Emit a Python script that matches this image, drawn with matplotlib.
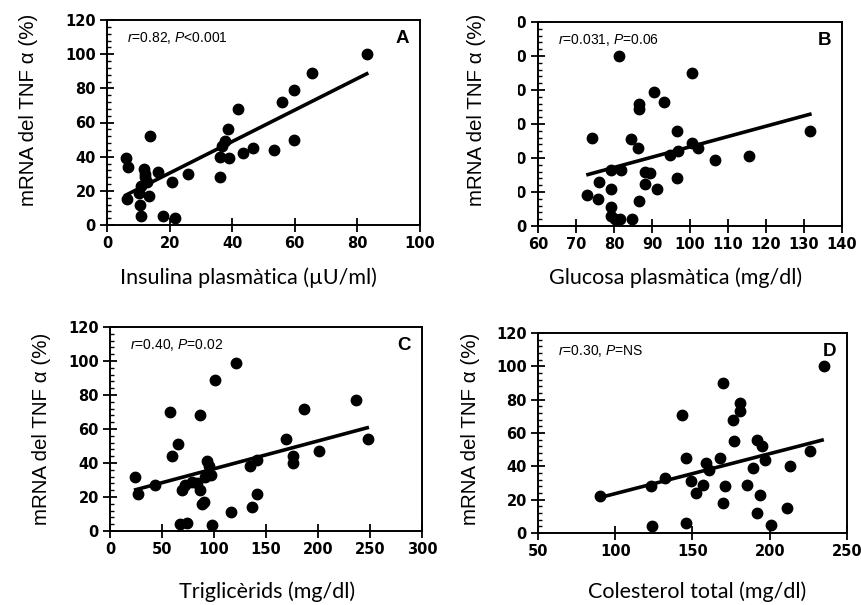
import matplotlib
matplotlib.use("Agg")
import matplotlib.pyplot as plt
from matplotlib.patches import Rectangle
from matplotlib.ticker import MultipleLocator

plt.rcParams['mathtext.fontset'] = 'custom'
plt.rcParams['mathtext.rm'] = 'Liberation Sans'
plt.rcParams['mathtext.it'] = 'Liberation Sans:italic'

# A - insulina plasmatica
ins_x = [6.2, 6.6, 6.4, 10.1, 10.6, 10.9, 11.7, 12.2, 11.0, 12.8, 13.3, 13.6, 16.2, 12.0,
         17.9, 20.7, 21.8, 25.9, 36.2, 36.0, 36.7, 37.8, 38.8, 39.1, 42.0, 43.3, 46.8,
         53.4, 56.0, 59.8, 59.8, 65.6, 83.2]
ins_y = [39, 34, 15, 19, 12, 5, 33, 28, 23, 25, 17, 52, 31, 30,
         5, 25, 4, 30, 28, 40, 46, 49, 56, 39, 68, 42, 45,
         44, 72, 79, 50, 89, 100]
ins_fit_x = [5.5, 83.5]
ins_fit_y = [17, 89]

# B - glucosa plasmatica
glu_x = [73.0, 74.1, 75.8, 76.1, 79.3, 79.3, 79.3, 79.3, 80.2, 81.3, 81.5, 81.9, 84.6,
         84.8, 86.3, 86.5, 86.5, 86.5, 88.2, 88.2, 89.6, 90.4, 91.3, 93.1, 94.8, 96.6,
         96.6, 96.8, 100.4, 100.4, 102.1, 106.5, 115.5, 131.7]
glu_y = [18, 52, 16, 26, 22, 33, 11, 6, 4, 100, 4, 33, 51,
         4, 46, 72, 69, 15, 32, 25, 31, 79, 22, 73, 42, 56,
         28, 44, 90, 49, 46, 39, 41, 56]
glu_fit_x = [72.7, 132]
glu_fit_y = [30, 66]

# C - triglicerids
tg_x = [24, 27, 43, 58, 60, 65, 67, 69, 72, 74, 79, 84, 87, 87, 88, 90, 91, 93, 95,
        97, 98, 101, 116, 121, 135, 137, 141, 141, 169, 176, 176, 187, 201, 237, 248]
tg_y = [32, 22, 27, 70, 44, 51, 4, 24, 27, 5, 29, 28, 68, 24, 16, 17, 32, 41, 38,
        33, 3.5, 89, 11, 99, 38, 14, 22, 42, 54, 44, 40, 72, 47, 77, 54]
tg_fit_x = [23, 249]
tg_fit_y = [24, 61]

# D - colesterol total
col_x = [90, 123, 124, 132, 143, 146, 146, 149, 152, 157, 159, 161, 168, 170, 170, 171,
         176, 177, 181, 181, 185, 189, 192, 192, 194, 195, 197, 201, 211, 213, 226, 235]
col_y = [22, 28, 4, 33, 71, 45, 6, 31, 24, 29, 42, 38, 45, 90, 18, 28,
         68, 55, 78, 73, 29, 39, 56, 12, 23, 52, 44, 5, 15, 40, 49, 100]
col_fit_x = [89, 235]
col_fit_y = [21, 56]

W, H = 861, 605
fig = plt.figure(figsize=(W / 100, H / 100), dpi=100)


def px_axes(left, top, right, bottom):
    return fig.add_axes([left / W, 1 - bottom / H, (right - left) / W, (bottom - top) / H])


def panel(ax, xs, ys, fx, fy, xlim, xstep, note, letter):
    ax.plot(xs, ys, 'o', color='black', markersize=7.5, clip_on=False, zorder=3)
    ax.plot(fx, fy, '-', color='black', lw=2.6, solid_capstyle='butt', zorder=2)
    ax.set_xlim(*xlim)
    ax.set_ylim(0, 120)
    ax.xaxis.set_major_locator(MultipleLocator(xstep))
    ax.yaxis.set_major_locator(MultipleLocator(20))
    ax.yaxis.set_minor_locator(MultipleLocator(4))
    ax.tick_params(axis='both', which='major', direction='inout', length=10, width=1.3,
                   labelsize=10.5, pad=3)
    ax.tick_params(axis='y', which='minor', direction='in', length=3, width=1)
    for lab in ax.get_xticklabels() + ax.get_yticklabels():
        lab.set_fontweight('bold')
        lab.set_family('DejaVu Sans')
    for sp in ax.spines.values():
        sp.set_linewidth(1.4)
    ax.text(0.065, 0.91, note, transform=ax.transAxes, fontsize=10, va='center',
            family='Liberation Sans')
    ax.text(0.965, 0.91, letter, transform=ax.transAxes, fontsize=13.5, fontweight='bold',
            ha='right', va='center', family='Liberation Sans')


axA = px_axes(107, 20, 420, 225)
panel(axA, ins_x, ins_y, ins_fit_x, ins_fit_y, (0, 100), 20, '$r$=0.82, $P$<0.001', 'A')
axB = px_axes(538, 22, 842, 226)
panel(axB, glu_x, glu_y, glu_fit_x, glu_fit_y, (60, 140), 10, '$r$=0.031, $P$=0.06', 'B')
axC = px_axes(110, 327, 422, 531)
panel(axC, tg_x, tg_y, tg_fit_x, tg_fit_y, (0, 300), 50, '$r$=0.40, $P$=0.02', 'C')
axD = px_axes(538, 333, 847, 533)
panel(axD, col_x, col_y, col_fit_x, col_fit_y, (50, 250), 50, '$r$=0.30, $P$=NS', 'D')

# etiqueta enganxada damunt de l'eix B (tapa les xifres)
fig.add_artist(Rectangle((490 / W, 1 - 216 / H), 28 / W, 202 / H, transform=fig.transFigure,
                         facecolor='white', edgecolor='none', zorder=5))

ylab = 'mRNA del TNF α (%)'
for x, y in [(29, 110), (477, 110), (42, 429), (471, 429)]:
    fig.text(x / W, 1 - y / H, ylab, rotation=90, ha='center', va='center',
             fontsize=14.8, family='Liberation Sans', zorder=6)

xlabs = [('Insulina plasmàtica (µU/ml)', 248, 278),
         ('Glucosa plasmàtica (mg/dl)', 676, 278),
         ('Triglicèrids (mg/dl)', 267, 592),
         ('Colesterol total (mg/dl)', 697, 592)]
for txt, x, y in xlabs:
    fig.text(x / W, 1 - y / H, txt, ha='center', va='center', fontsize=15.5, family='Lato')

fig.savefig('out.png', dpi=100)
